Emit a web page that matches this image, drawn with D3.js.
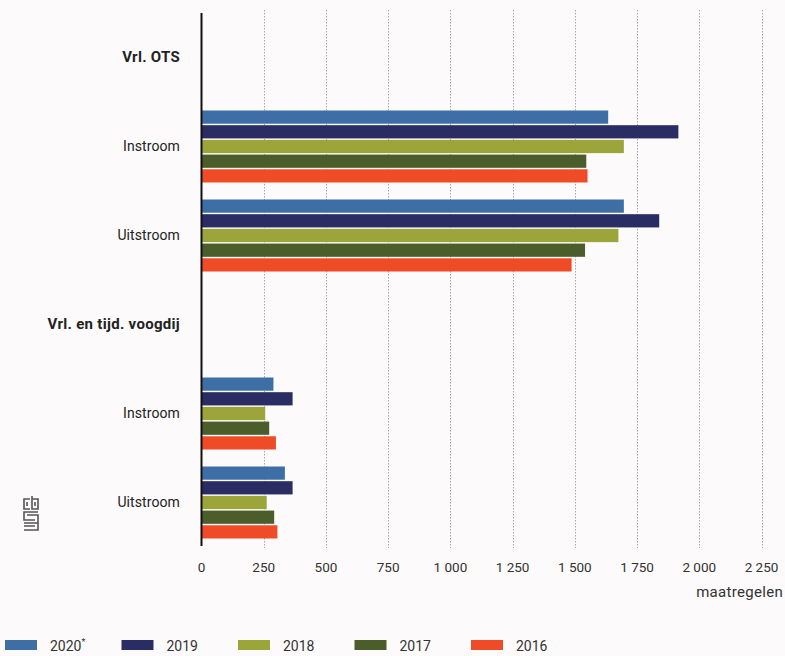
<!DOCTYPE html>
<html><head><meta charset="utf-8">
<script src="https://cdn.jsdelivr.net/npm/d3@7"></script>
<style>
html,body{margin:0;padding:0;background:#fcfafa;}
svg{display:block;font-family:Roboto,"Open Sans",sans-serif;}
</style></head>
<body><svg id="c" width="785" height="656"></svg>
<script>
// ---- data ----
const rowLabels = ["Vrl. OTS", "Instroom", "Uitstroom", "Vrl. en tijd. voogdij", "Instroom", "Uitstroom"];
const rowIsHeader = [true, false, false, true, false, false];
const years = ["2020*", "2019", "2018", "2017", "2016"];
const values2020 = [null, 1634, 1697, null, 289, 335];
const values2019 = [null, 1916, 1839, null, 366, 366];
const values2018 = [null, 1697, 1675, null, 256, 262];
const values2017 = [null, 1546, 1541, null, 272, 292];
const values2016 = [null, 1551, 1487, null, 299, 305];
const tickValues = [0, 250, 500, 750, 1000, 1250, 1500, 1750, 2000, 2250];
const colors = ["#3e6ea6", "#2a2d63", "#9ba53a", "#4a5d2b", "#ee4b26"];
const xTitle = "maatregelen";

const series = [values2020, values2019, values2018, values2017, values2016];
const rowIds = rowLabels.map((d, i) => "r" + i);

const svg = d3.select("#c");
const x = d3.scaleLinear().domain([0, 2250]).range([201.5, 761.5]);
const y = d3.scaleBand().domain(rowIds).range([12.5, 546.5]).padding(0);
const y1 = d3.scaleBand().domain(years).range([9, y.bandwidth() - 8]).paddingInner(0.1);

const fmt = d3.formatLocale({decimal: ",", thousands: " ", grouping: [3], currency: ["€", ""]}).format(",d");

// gridlines
svg.append("g").selectAll("line").data(tickValues.filter(d => d > 0)).join("line")
  .attr("x1", d => Math.round(x(d)) + 0.5).attr("x2", d => Math.round(x(d)) + 0.5)
  .attr("y1", 10).attr("y2", 548)
  .attr("stroke", "#a8a8a8").attr("stroke-width", 1).attr("stroke-dasharray", "1.5,1.5");

// bars
const rows = svg.append("g").selectAll("g").data(rowIds).join("g")
  .attr("transform", d => `translate(0,${y(d)})`);
rows.each(function(id, i) {
  if (rowIsHeader[i]) return;
  const data = years.map((yr, k) => ({yr, v: series[k][i], c: colors[k]}));
  d3.select(this).selectAll("rect").data(data).join("rect")
    .attr("x", x(0)).attr("y", d => y1(d.yr))
    .attr("width", d => x(d.v) - x(0)).attr("height", y1.bandwidth())
    .attr("fill", d => d.c);
});

// y axis line
svg.append("line").attr("x1", 201.5).attr("x2", 201.5).attr("y1", 13).attr("y2", 546)
  .attr("stroke", "#111").attr("stroke-width", 2);

// row labels
svg.append("g").selectAll("text").data(rowIds).join("text")
  .attr("x", 180).attr("y", d => y(d) + y.bandwidth() / 2).attr("dy", "0.35em")
  .attr("text-anchor", "end")
  .attr("font-size", (d, i) => rowIsHeader[i] ? 15 : 14)
  .attr("letter-spacing", (d, i) => rowIsHeader[i] ? 0.3 : 0.1)
  .attr("font-weight", (d, i) => rowIsHeader[i] ? 700 : 400)
  .attr("fill", "#222")
  .text((d, i) => rowLabels[i]);

// x axis tick labels
svg.append("g").selectAll("text").data(tickValues).join("text")
  .attr("x", d => x(d)).attr("y", 572).attr("text-anchor", "middle")
  .attr("font-size", 13.5).attr("fill", "#333").text(d => fmt(d));
svg.append("text").attr("x", 783).attr("y", 597).attr("text-anchor", "end")
  .attr("font-size", 15).attr("letter-spacing", 0.3).attr("fill", "#333").text(xTitle);

// legend
const lg = svg.append("g").selectAll("g").data(years).join("g")
  .attr("transform", (d, i) => `translate(${5 + i * 116.5},640)`);
lg.append("rect").attr("width", 32).attr("height", 10).attr("fill", (d, i) => colors[i]);
lg.append("text").attr("x", 45).attr("y", 10.5)
  .attr("font-size", 14).attr("fill", "#333").text(d => d.replace("*", ""))
  .append("tspan").attr("font-size", 9).attr("dy", "-6").text(d => d.includes("*") ? "*" : "");

// cbs logo
const logo = svg.append("g").attr("transform", "translate(23,496)")
  .attr("fill", "none").attr("stroke", "#555").attr("stroke-width", 1.6);
logo.append("path").attr("d", "M7,3 H1 V13 H7 M4,6 V10 M9,0 V13 H15 V3 H9 M12,6 V10");
logo.append("path").attr("d", "M15,16 H1 V24 H12 M4,19 H15 V27 M1,27 H15 V34 H1 M1,30 H12");
</script>
</body></html>
